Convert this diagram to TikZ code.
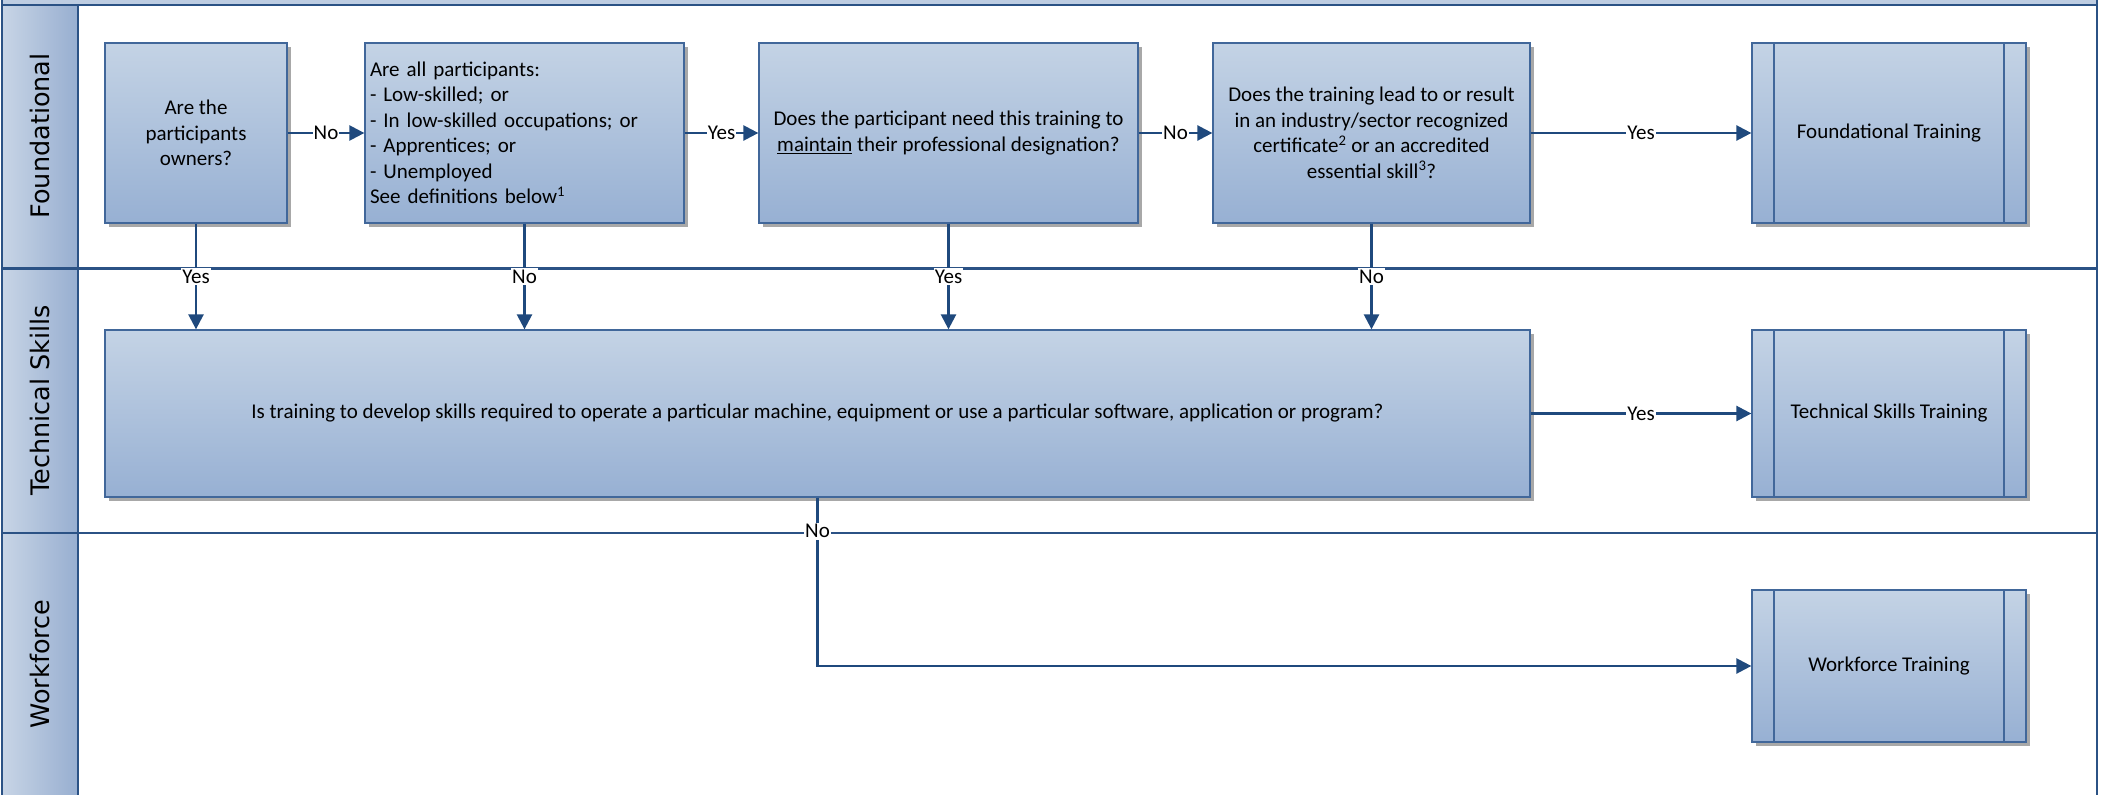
\documentclass[tikz,border=0pt]{standalone}
\usepackage{fontspec}
\setmainfont{Carlito}
\newfontfamily\lanefont{DejaVu Sans}
\usetikzlibrary{shadows,arrows.meta,calc}
\definecolor{boxtop}{HTML}{C4D3E5}
\definecolor{boxbot}{HTML}{97B0D3}
\definecolor{boxline}{HTML}{41679A}
\definecolor{connblue}{HTML}{1F497D}
\definecolor{lanel}{HTML}{C8D5E6}
\definecolor{laner}{HTML}{97AED0}
\definecolor{laneline}{HTML}{2B5285}
\definecolor{shadowgray}{HTML}{A8A8A8}
\begin{document}
\begin{tikzpicture}[x=1pt,y=-1pt,
  procbox/.style={draw=boxline, line width=1.3pt, top color=boxtop, bottom color=boxbot,
    drop shadow={shadow xshift=4pt, shadow yshift=-4pt, fill=shadowgray, opacity=1},
    align=center, font=\fontsize{21}{25.5}\selectfont, inner sep=4pt},
  predef/.style={procbox, path picture={
    \draw[boxline, line width=1.1pt]
      ($(path picture bounding box.north west)+(22,0)$) -- ($(path picture bounding box.south west)+(22,0)$)
      ($(path picture bounding box.north east)+(-22,0)$) -- ($(path picture bounding box.south east)+(-22,0)$);}},
  connarrow/.style={draw=connblue, line width=2.5pt, -{Triangle[length=15pt,width=15pt]}},
  lbl/.style={fill=white, inner xsep=1pt, inner ysep=2pt, font=\fontsize{21}{25}\selectfont, text=black},
  lanetxt/.style={rotate=90, font=\lanefont\fontsize{25.5}{30}\selectfont, text=black},
  laneborder/.style={draw=laneline, line width=2.5pt}
]
\useasboundingbox (0,0) rectangle (2104,795);
% pool frame and lane headers
\fill[lanel!80!laner] (2,0) rectangle (2097,5);
\fill[left color=lanel, right color=laner] (2,5) rectangle (78,795);
\draw[laneborder] (2,5) -- (2097,5);
\draw[laneborder] (2,0) -- (2,795);
\draw[laneborder] (2097,0) -- (2097,795);
\draw[laneborder] (78,5) -- (78,795);
\draw[laneborder] (2,268.5) -- (2097,268.5);
\draw[laneborder] (2,533) -- (2097,533);
\node[lanetxt] (l1) at (40,136) {Foundational};
\node[lanetxt] (l2) at (40,400.5) {Technical Skills};
\node[lanetxt] (l3) at (40,664) {Workforce};
% boxes
\node[procbox, minimum width=182pt, minimum height=180pt] (q1) at (196,133) {Are the\\participants\\owners?};
\node[procbox, text width=309pt, inner xsep=5pt, align=left, minimum height=180pt] (q2) at (524.5,133)
  {Are all participants:\\- Low-skilled; or\\- In low-skilled occupations; or\\- Apprentices; or\\- Unemployed\\See definitions below\textsuperscript{1}};
\node[procbox, minimum width=379pt, minimum height=180pt] (q3) at (948.5,133)
  {Does the participant need this training to\\\underline{maintain} their professional designation?};
\node[procbox, minimum width=317pt, minimum height=180pt] (q4) at (1371.5,133)
  {Does the training lead to or result\\in an industry/sector recognized\\certificate\textsuperscript{2} or an accredited\\essential skill\textsuperscript{3}?};
\node[predef, minimum width=274pt, minimum height=180pt] (ft) at (1889,133) {Foundational Training};
\node[procbox, minimum width=1425pt, minimum height=167pt] (q5) at (817.5,413.5)
  {Is training to develop skills required to operate a particular machine, equipment or use a particular software, application or program?};
\node[predef, minimum width=274pt, minimum height=167pt] (tst) at (1889,413.5) {Technical Skills Training};
\node[predef, minimum width=274pt, minimum height=152pt] (wt) at (1889,666) {Workforce Training};
% connectors
\draw[connarrow] (q1) -- node[lbl]{No} (q2);
\draw[connarrow] (q2) -- node[lbl]{Yes} (q3);
\draw[connarrow] (q3) -- node[lbl]{No} (q4);
\draw[connarrow] (q4) -- node[lbl]{Yes} (ft);
\draw[connarrow] (q1.south) -- node[lbl]{Yes} (q1.south |- q5.north);
\draw[connarrow] (q2.south) -- node[lbl]{No} (q2.south |- q5.north);
\draw[connarrow] (q3.south) -- node[lbl]{Yes} (q3.south |- q5.north);
\draw[connarrow] (q4.south) -- node[lbl]{No} (q4.south |- q5.north);
\draw[connarrow] (q5) -- node[lbl]{Yes} (tst);
\draw[connarrow] (q5.south) |- node[lbl, pos=0.1]{No} (wt.west);
\end{tikzpicture}
\end{document}
